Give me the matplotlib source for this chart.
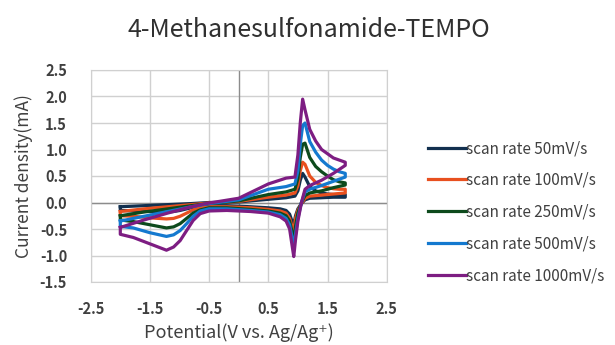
import matplotlib
matplotlib.use("Agg")
import matplotlib.pyplot as plt
import numpy as np

plt.rcParams['font.family'] = ['Noto Sans CJK KR', 'DejaVu Sans']

# Potentials (V vs Ag/Ag+) for forward (anodic) and reverse (cathodic) sweeps
E_fwd = [-2.0, -1.6, -1.2, -0.8, -0.5, 0.0, 0.5, 0.8, 0.95, 1.0, 1.04, 1.08,
         1.12, 1.2, 1.3, 1.4, 1.5, 1.6, 1.7, 1.8]
E_rev = [1.8, 1.6, 1.4, 1.2, 1.12, 1.06, 1.0, 0.96, 0.93, 0.90, 0.86, 0.8, 0.7,
         0.5, 0.2, -0.2, -0.5, -0.65, -0.77, -0.88, -0.99, -1.1, -1.22, -1.5,
         -1.78, -2.0]

labels = ["scan rate 50mV/s", "scan rate 100mV/s", "scan rate 250mV/s",
          "scan rate 500mV/s", "scan rate 1000mV/s"]
colors = ["#12304f", "#e8501f", "#0d4a1c", "#1479cf", "#7d1d82"]

# Current density (mA), forward sweep
i_fwd_50 = [-0.08, -0.06, -0.04, -0.02, 0.0, 0.01, 0.06, 0.09, 0.12, 0.22, 0.42,
            0.55, 0.48, 0.30, 0.22, 0.18, 0.16, 0.15, 0.15, 0.15]
i_fwd_100 = [-0.17, -0.12, -0.08, -0.04, -0.01, 0.02, 0.10, 0.14, 0.18, 0.32, 0.60,
             0.76, 0.72, 0.50, 0.38, 0.32, 0.28, 0.26, 0.25, 0.25]
i_fwd_250 = [-0.25, -0.18, -0.12, -0.06, -0.02, 0.03, 0.15, 0.20, 0.25, 0.45, 0.85,
             1.10, 1.12, 0.85, 0.68, 0.58, 0.50, 0.43, 0.39, 0.37]
i_fwd_500 = [-0.35, -0.26, -0.17, -0.08, -0.02, 0.05, 0.25, 0.30, 0.35, 0.60, 1.10,
             1.45, 1.50, 1.15, 0.95, 0.80, 0.70, 0.63, 0.58, 0.55]
i_fwd_1000 = [-0.47, -0.33, -0.20, -0.08, -0.01, 0.08, 0.35, 0.46, 0.48, 0.90, 1.50,
              1.95, 1.75, 1.38, 1.16, 1.00, 0.92, 0.84, 0.80, 0.76]

# Current density (mA), reverse sweep
i_rev_50 = [0.10, 0.10, 0.09, 0.08, 0.05, -0.02, -0.12, -0.25, -0.42, -0.35, -0.22,
            -0.15, -0.12, -0.10, -0.08, -0.06, -0.06, -0.07, -0.09, -0.12, -0.15,
            -0.17, -0.18, -0.17, -0.16, -0.15]
i_rev_100 = [0.18, 0.16, 0.14, 0.12, 0.08, -0.02, -0.15, -0.30, -0.55, -0.45, -0.30,
             -0.20, -0.16, -0.13, -0.10, -0.08, -0.08, -0.10, -0.14, -0.20, -0.26,
             -0.30, -0.31, -0.29, -0.26, -0.25]
i_rev_250 = [0.33, 0.28, 0.22, 0.18, 0.13, 0.0, -0.20, -0.45, -0.75, -0.55, -0.35,
             -0.25, -0.20, -0.16, -0.13, -0.10, -0.10, -0.14, -0.20, -0.30, -0.40,
             -0.46, -0.48, -0.42, -0.36, -0.33]
i_rev_500 = [0.48, 0.40, 0.32, 0.25, 0.20, 0.0, -0.30, -0.60, -0.85, -0.65, -0.42,
             -0.30, -0.23, -0.18, -0.15, -0.12, -0.12, -0.16, -0.26, -0.40, -0.53,
             -0.61, -0.64, -0.57, -0.48, -0.45]
i_rev_1000 = [0.70, 0.55, 0.42, 0.32, 0.25, 0.0, -0.35, -0.70, -1.02, -0.80, -0.50,
              -0.35, -0.27, -0.20, -0.17, -0.15, -0.16, -0.21, -0.34, -0.53, -0.72,
              -0.84, -0.90, -0.78, -0.66, -0.60]

fwd_sets = [i_fwd_50, i_fwd_100, i_fwd_250, i_fwd_500, i_fwd_1000]
rev_sets = [i_rev_50, i_rev_100, i_rev_250, i_rev_500, i_rev_1000]

x_ticks = [-2.5, -1.5, -0.5, 0.5, 1.5, 2.5]
y_ticks = [-1.5, -1.0, -0.5, 0.0, 0.5, 1.0, 1.5, 2.0, 2.5]

fig = plt.figure(figsize=(6.15, 3.45), dpi=100)
ax = fig.add_axes([90.7 / 615, 1 - 282 / 345, (386.7 - 90.7) / 615, (282 - 70) / 345])

for fw, rv, c, lab in zip(fwd_sets, rev_sets, colors, labels):
    E = E_fwd + E_rev + [E_fwd[0]]
    I = fw + rv + [fw[0]]
    ax.plot(E, I, color=c, lw=2.3, label=lab, solid_joinstyle='round')

ax.set_xlim(-2.5, 2.5)
ax.set_ylim(-1.5, 2.5)
ax.set_xticks(x_ticks)
ax.set_xticklabels(["-2.5", "-1.5", "-0.5", "0.5", "1.5", "2.5"])
ax.set_yticks(y_ticks)
ax.set_yticklabels([f"{v:.1f}" for v in y_ticks])
ax.grid(True, color="#d0d0d0", lw=1.0)
ax.set_axisbelow(True)
for s in ax.spines.values():
    s.set_color("#d0d0d0")
ax.axhline(0, color="#8c8c8c", lw=1.0, zorder=1)
ax.axvline(0, color="#8c8c8c", lw=1.0, zorder=1)
ax.tick_params(length=0, labelsize=10.5, labelcolor="#404040")
ax.tick_params(axis='x', pad=14)
ax.tick_params(axis='y', pad=17)
for t in ax.get_xticklabels() + ax.get_yticklabels():
    t.set_fontweight('bold')

ax.set_xlabel("Potential(V vs. Ag/Ag\u207a)", fontsize=13, color="#404040", labelpad=4)
ax.set_ylabel("Current density(mA)", fontsize=12.5, color="#404040", labelpad=5)
fig.text(0.503, 0.913, "4-Methanesulfonamide-TEMPO", fontsize=18, color="#303030",
         ha="center", va="center")

leg = ax.legend(loc="upper left", bbox_to_anchor=(428 / 615, 1 - 140 / 345),
                bbox_transform=fig.transFigure, frameon=False,
                prop={'size': 11, 'weight': 'medium'},
                handlelength=2.5, handletextpad=0.0, labelspacing=0.97,
                borderaxespad=0, borderpad=0)
for t in leg.get_texts():
    t.set_color("#404040")

fig.savefig("out.png", dpi=100)
